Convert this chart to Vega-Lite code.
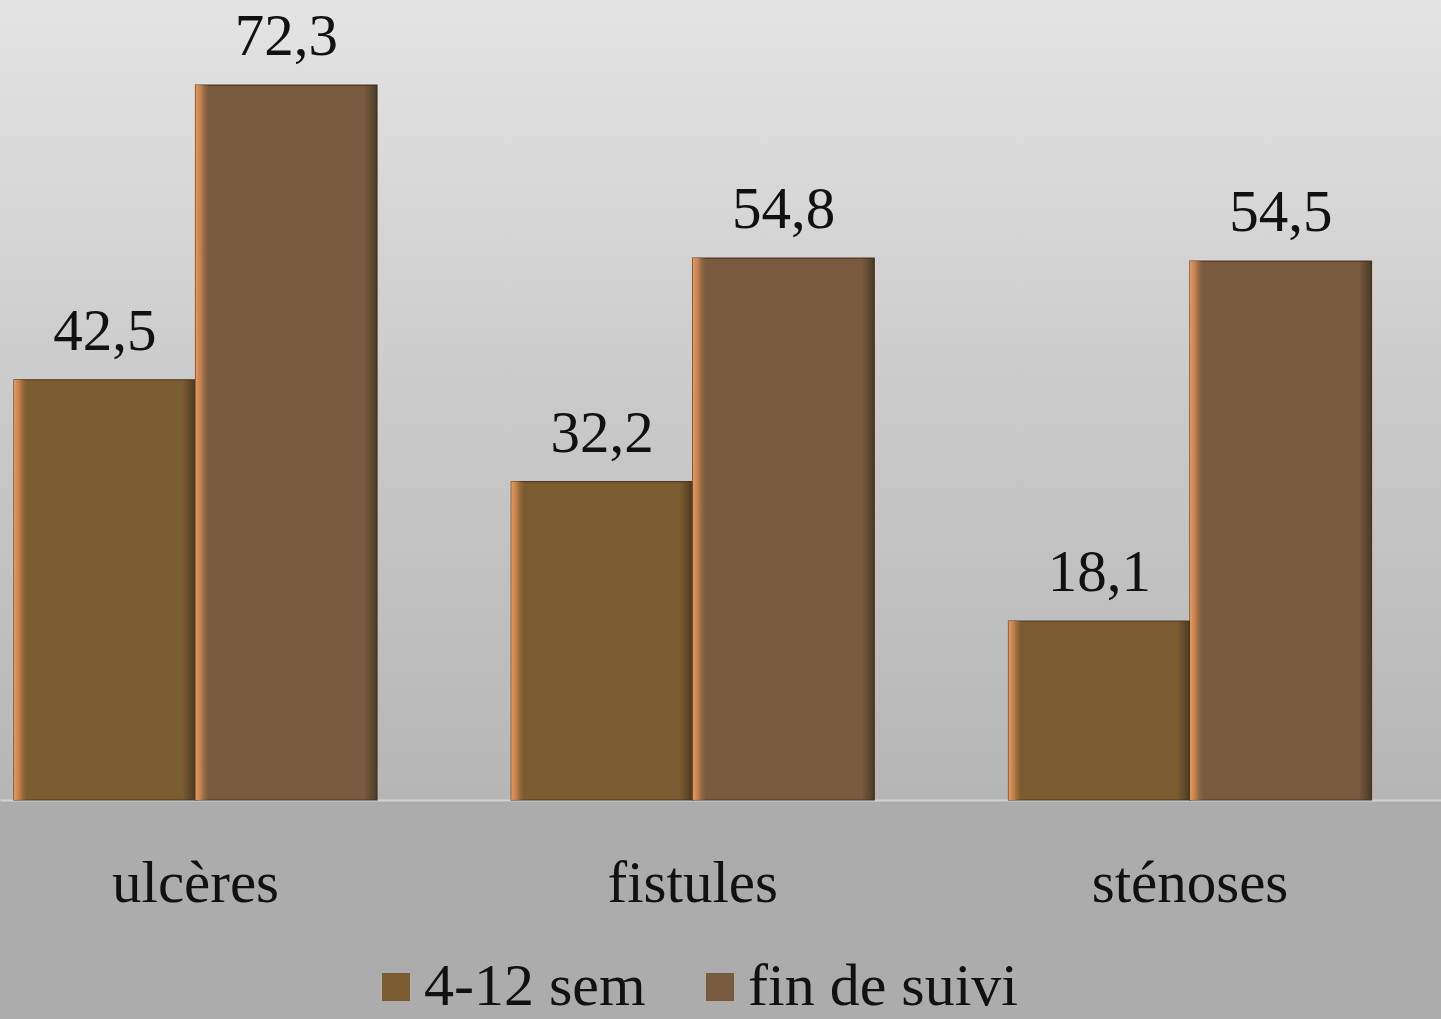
{
  "$schema": "https://vega.github.io/schema/vega-lite/v6.json",
  "autosize": "none",
  "padding": {"left": 0, "top": 0, "right": 0, "bottom": 219},
  "width": 1441,
  "height": 800,
  "background": "#acacac",
  "data": {
    "values": [
      {"categorie": "ulcères", "periode": "4-12 sem", "valeur": 42.5},
      {"categorie": "ulcères", "periode": "fin de suivi", "valeur": 72.3},
      {"categorie": "fistules", "periode": "4-12 sem", "valeur": 32.2},
      {"categorie": "fistules", "periode": "fin de suivi", "valeur": 54.8},
      {"categorie": "sténoses", "periode": "4-12 sem", "valeur": 18.1},
      {"categorie": "sténoses", "periode": "fin de suivi", "valeur": 54.5}
    ]
  },
  "encoding": {
    "x": {
      "field": "categorie",
      "type": "nominal",
      "sort": ["ulcères", "fistules", "sténoses"],
      "scale": {"paddingInner": 0.27, "paddingOuter": 0.084, "align": 0.168},
      "axis": {
        "title": null,
        "labelAngle": 0,
        "labelFont": "Liberation Serif",
        "labelFontSize": 59,
        "labelColor": "#111111",
        "labelPadding": 54,
        "labelLimit": 0,
        "labelOverlap": false,
        "ticks": false,
        "domainColor": "#d2d2d2",
        "domainWidth": 2,
        "grid": false
      }
    },
    "xOffset": {
      "field": "periode",
      "type": "nominal",
      "scale": {"paddingInner": 0, "paddingOuter": 0}
    },
    "y": {
      "field": "valeur",
      "type": "quantitative",
      "scale": {"domain": [0, 80.9], "nice": false, "zero": true},
      "axis": null
    }
  },
  "layer": [
    {
      "mark": {"type": "bar", "stroke": "#4e3a1e", "strokeWidth": 1.2},
      "encoding": {
        "color": {
          "field": "periode",
          "type": "nominal",
          "scale": {
            "domain": ["4-12 sem", "fin de suivi"],
            "range": ["#7b5b30", "#7a5a3f"]
          },
          "legend": {
            "title": null,
            "orient": "none",
            "legendX": 366,
            "legendY": 957,
            "direction": "horizontal",
            "symbolType": "square",
            "symbolSize": 784,
            "symbolStrokeWidth": 0,
            "symbolOpacity": 1,
            "labelFont": "Liberation Serif",
            "labelFontSize": 60,
            "labelColor": "#111111",
            "labelOffset": -2,
            "labelLimit": 0,
            "columnPadding": 44
          }
        }
      }
    },
    {
      "mark": {
        "type": "bar",
        "fill": {"gradient": "linear", "x1": 0, "y1": 0, "x2": 1, "y2": 0, "stops": [
          {"offset": 0, "color": "rgba(236,152,92,1)"},
          {"offset": 0.03, "color": "rgba(214,140,84,0.75)"},
          {"offset": 0.075, "color": "rgba(140,100,55,0)"},
          {"offset": 0.93, "color": "rgba(60,50,30,0)"},
          {"offset": 1, "color": "rgba(55,48,30,0.75)"}
        ]}
      },
      "encoding": {}
    },
    {
      "mark": {
        "type": "text",
        "baseline": "alphabetic",
        "dy": -30,
        "font": "Liberation Serif",
        "fontSize": 59,
        "color": "#111111"
      },
      "encoding": {
        "text": {"field": "valeur", "type": "quantitative", "format": ".1f"}
      }
    }
  ],
  "config": {
    "locale": {
      "number": {"decimal": ",", "thousands": " ", "grouping": [3], "currency": ["", " €"]}
    },
    "view": {
      "stroke": null,
      "fill": {"gradient": "linear", "x1": 0, "y1": 0, "x2": 0, "y2": 1, "stops": [
        {"offset": 0, "color": "#e5e4e4"},
        {"offset": 0.5, "color": "#cacaca"},
        {"offset": 1, "color": "#b6b6b6"}
      ]}
    }
  }
}
